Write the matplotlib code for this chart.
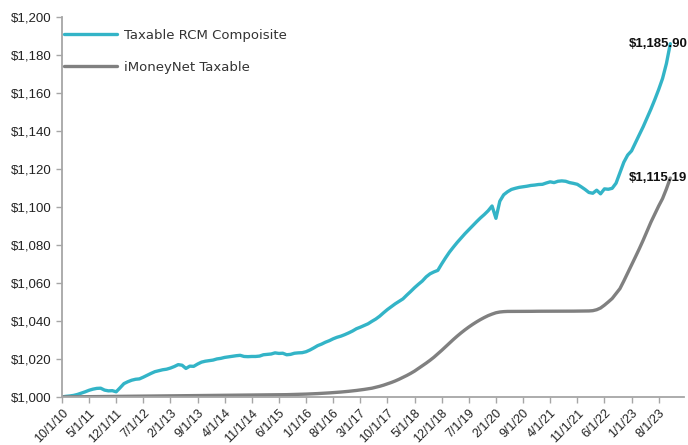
import numpy as np
import pandas as pd
import matplotlib
matplotlib.use('Agg')
import matplotlib.pyplot as plt

# monthly dates, 10/1/10 .. 11/1/23
dates = pd.date_range('2010-10-01', periods=158, freq='MS')

rcm_composite = [
    1000.0, 1000.3, 1000.5, 1000.8, 1001.3, 1002.0, 1002.7, 1003.5, 1004.1, 1004.5,
    1004.6, 1003.6, 1003.2, 1003.3, 1002.7, 1004.8, 1007.0, 1008.0, 1008.8, 1009.3,
    1009.5, 1010.4, 1011.4, 1012.4, 1013.3, 1013.8, 1014.3, 1014.6, 1015.2, 1016.0,
    1017.0, 1016.7, 1015.0, 1016.2, 1016.1, 1017.3, 1018.3, 1018.8, 1019.1, 1019.4,
    1020.0, 1020.3, 1020.8, 1021.1, 1021.4, 1021.7, 1021.9, 1021.3, 1021.2, 1021.3,
    1021.3, 1021.5, 1022.2, 1022.4, 1022.6, 1023.2, 1022.9, 1023.0, 1022.2, 1022.4,
    1023.0, 1023.2, 1023.3, 1023.8, 1024.7, 1025.8, 1027.0, 1027.8, 1028.8, 1029.6,
    1030.6, 1031.4, 1032.0, 1032.8, 1033.7, 1034.7, 1035.9, 1036.7, 1037.6, 1038.5,
    1039.8, 1041.0, 1042.5, 1044.3, 1046.0, 1047.5, 1049.0, 1050.3, 1051.6, 1053.6,
    1055.5, 1057.5, 1059.3, 1061.0, 1063.2, 1064.8, 1065.8, 1066.6, 1070.0, 1073.2,
    1076.2, 1078.8, 1081.3, 1083.6, 1085.9, 1088.0, 1090.1, 1092.2, 1094.2, 1096.0,
    1098.0, 1100.5, 1094.0, 1103.0, 1106.4, 1108.0, 1109.2, 1109.8, 1110.3, 1110.6,
    1110.9, 1111.3, 1111.5, 1111.8, 1111.9, 1112.6, 1113.2, 1112.8, 1113.5, 1113.7,
    1113.5, 1112.8, 1112.4, 1111.9, 1110.6, 1109.2, 1107.6, 1107.2, 1108.8, 1106.9,
    1109.5, 1109.3, 1109.8, 1112.5, 1118.0, 1123.5, 1127.3, 1129.5, 1133.8, 1138.0,
    1142.2, 1146.8, 1151.5, 1156.5, 1161.8, 1167.6, 1175.5, 1185.90,
]

imoneynet = [
    1000.00, 1000.02, 1000.04, 1000.06, 1000.08, 1000.10, 1000.12, 1000.14, 1000.16, 1000.18,
    1000.20, 1000.22, 1000.24, 1000.26, 1000.28, 1000.30, 1000.32, 1000.34, 1000.36, 1000.38,
    1000.40, 1000.42, 1000.44, 1000.46, 1000.48, 1000.50, 1000.52, 1000.54, 1000.56, 1000.58,
    1000.60, 1000.62, 1000.64, 1000.66, 1000.68, 1000.70, 1000.72, 1000.74, 1000.76, 1000.78,
    1000.80, 1000.82, 1000.84, 1000.86, 1000.88, 1000.90, 1000.92, 1000.94, 1000.96, 1000.98,
    1001.00, 1001.02, 1001.04, 1001.06, 1001.08, 1001.10, 1001.13, 1001.16, 1001.20, 1001.25,
    1001.30, 1001.36, 1001.42, 1001.50, 1001.58, 1001.67, 1001.77, 1001.88, 1002.00, 1002.13,
    1002.27, 1002.42, 1002.58, 1002.76, 1002.96, 1003.18, 1003.42, 1003.68, 1003.96, 1004.27,
    1004.6, 1005.1, 1005.6, 1006.2, 1006.9, 1007.6, 1008.4, 1009.3, 1010.3, 1011.3,
    1012.4, 1013.6, 1015.0, 1016.4, 1017.8, 1019.3, 1020.9, 1022.7, 1024.5, 1026.4,
    1028.3, 1030.2, 1032.0, 1033.7, 1035.3, 1036.8, 1038.2, 1039.5, 1040.7, 1041.8,
    1042.8, 1043.6, 1044.3, 1044.7, 1044.9, 1045.0, 1045.0, 1045.0, 1045.05, 1045.05,
    1045.05, 1045.05, 1045.1, 1045.1, 1045.1, 1045.1, 1045.1, 1045.1, 1045.15, 1045.15,
    1045.15, 1045.15, 1045.15, 1045.2, 1045.2, 1045.2, 1045.25, 1045.4, 1045.9, 1046.8,
    1048.3, 1050.0, 1051.8, 1054.4, 1057.0, 1061.0, 1065.2, 1069.3, 1073.7, 1078.0,
    1082.5, 1087.3, 1092.0, 1096.2, 1100.5, 1104.4, 1109.5, 1115.19,
]

teal = '#33B4C7'
grey = '#808080'
axis_grey = '#A6A6A6'

fig = plt.figure(figsize=(6.88, 4.45), dpi=100)
ax = fig.add_axes([0.090, 0.108, 0.904, 0.854])

x = np.arange(len(dates))
ax.plot(x, rcm_composite, color=teal, lw=2.4, label='Taxable RCM Compoisite', solid_capstyle='round')
ax.plot(x, imoneynet, color=grey, lw=2.4, label='iMoneyNet Taxable', solid_capstyle='round')

ax.set_xlim(0, 160.5)
ax.set_ylim(1000, 1200)
ax.set_yticks(np.arange(1000, 1201, 20))
ax.set_yticklabels(['${:,.0f}'.format(v) for v in np.arange(1000, 1201, 20)],
                   fontsize=9.5, family='Liberation Sans', color='#222222')

tick_pos = x[::7]
ax.set_xticks(tick_pos)
ax.set_xticklabels(['{}/{}/{}'.format(d.month, d.day, d.strftime('%y')) for d in dates[::7]],
                   rotation=45, ha='right', rotation_mode='anchor',
                   fontsize=9, family='Liberation Sans', color='#222222')

for s in ['top', 'right']:
    ax.spines[s].set_visible(False)
for s in ['left', 'bottom']:
    ax.spines[s].set_color(axis_grey)
    ax.spines[s].set_linewidth(1.3)
ax.tick_params(axis='both', colors=axis_grey, length=4, width=1, labelcolor='#222222')

leg = ax.legend(loc='upper left', bbox_to_anchor=(-0.015, 1.0), frameon=False,
                prop={'family': 'DejaVu Sans', 'size': 9.5}, handlelength=4.0,
                handletextpad=0.5, labelspacing=1.45)
for t in leg.get_texts():
    t.set_color('#333333')

for series in (rcm_composite, imoneynet):
    ax.annotate('${:,.2f}'.format(series[-1]), xy=(x[-1], series[-1]),
                xytext=(-42, 0), textcoords='offset pixels', ha='left', va='center',
                fontsize=9.5, fontweight='bold', family='Liberation Sans',
                color='#111111', annotation_clip=False)

fig.savefig('out.png', dpi=100)
